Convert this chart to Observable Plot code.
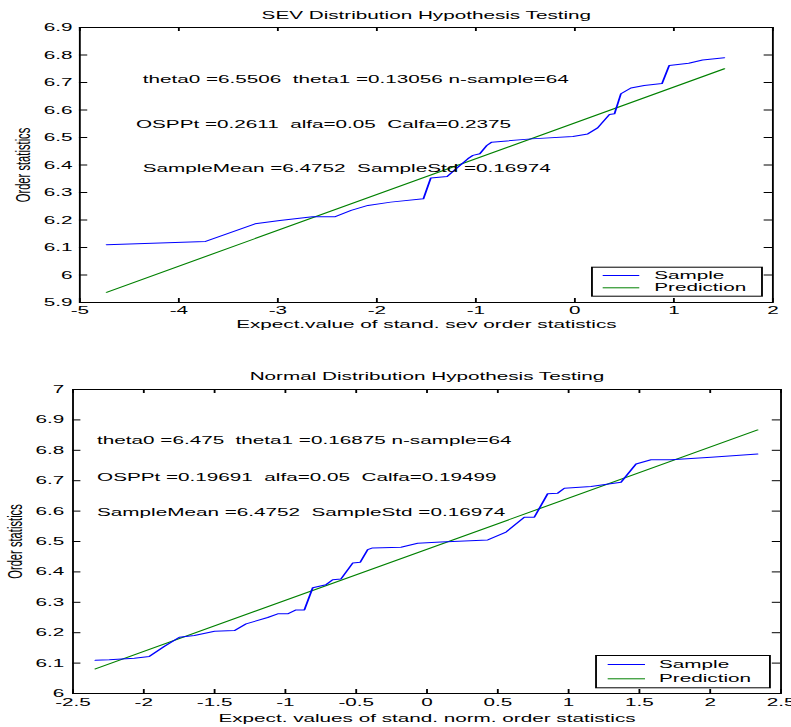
<!DOCTYPE html>
<html><head><meta charset="utf-8">
<script src="https://cdn.jsdelivr.net/npm/d3@7"></script>
<script src="https://cdn.jsdelivr.net/npm/@observablehq/plot@0.6"></script>
<style>
html,body{margin:0;padding:0;background:#fff;}
#chart{width:791px;height:727px;overflow:hidden;background:#fff;}
#chart svg{display:block;}
#chart svg text{white-space:pre;}
</style></head><body><div id="chart"></div>
<script>
// ---------- data: SEV panel ----------
const sevTitle = "SEV Distribution Hypothesis Testing";
const sevXLabel = "Expect.value of stand. sev order statistics";
const yLabel = "Order statistics";
const sevXTicks = [-5, -4, -3, -2, -1, 0, 1, 2];
const sevYTicks = [5.9, 6, 6.1, 6.2, 6.3, 6.4, 6.5, 6.6, 6.7, 6.8, 6.9];
const sevSampleX = [-4.73, -3.73, -3.23, -2.98, -2.65, -2.42, -2.26, -2.09, -1.86, -1.53, -1.455, -1.29, -1.20, -1.08, -1.03, -0.96, -0.89, -0.84, -0.44, -0.02, 0.13, 0.23, 0.35, 0.40, 0.465, 0.566, 0.70, 0.88, 0.953, 1.15, 1.29, 1.51];
const sevSampleY = [6.110, 6.122, 6.186, 6.198, 6.212, 6.212, 6.235, 6.253, 6.265, 6.277, 6.353, 6.358, 6.386, 6.423, 6.435, 6.441, 6.471, 6.483, 6.495, 6.504, 6.513, 6.535, 6.584, 6.586, 6.659, 6.680, 6.689, 6.696, 6.762, 6.770, 6.782, 6.790];
const sevPredX = [-4.73, 1.51];
const sevPredY = [5.937, 6.750];
const sevNoteText = ["theta0 =6.5506  theta1 =0.13056 n-sample=64", "OSPPt =0.2611  alfa=0.05  Calfa=0.2375", "SampleMean =6.4752  SampleStd =0.16974"];
const sevNoteX = [-4.365, -4.433, -4.365];
const sevNoteY = [6.711, 6.547, 6.388];

// ---------- data: Normal panel ----------
const normTitle = "Normal Distribution Hypothesis Testing";
const normXLabel = "Expect. values of stand. norm. order statistics";
const normXTicks = [-2.5, -2, -1.5, -1, -0.5, 0, 0.5, 1, 1.5, 2, 2.5];
const normYTicks = [6, 6.1, 6.2, 6.3, 6.4, 6.5, 6.6, 6.7, 6.8, 6.9, 7];
const normSampleX = [-2.342, -2.244, -2.067, -1.961, -1.855, -1.749, -1.643, -1.50, -1.36, -1.278, -1.125, -1.054, -0.984, -0.925, -0.866, -0.807, -0.713, -0.666, -0.607, -0.525, -0.471, -0.419, -0.384, -0.184, -0.066, 0.099, 0.429, 0.558, 0.687, 0.758, 0.852, 0.923, 0.970, 1.158, 1.370, 1.476, 1.582, 1.723, 2.006, 2.335];
const normSampleY = [6.109, 6.111, 6.116, 6.122, 6.155, 6.185, 6.191, 6.205, 6.207, 6.229, 6.250, 6.262, 6.262, 6.275, 6.275, 6.348, 6.358, 6.374, 6.377, 6.429, 6.432, 6.473, 6.479, 6.481, 6.494, 6.498, 6.505, 6.531, 6.580, 6.580, 6.657, 6.659, 6.675, 6.681, 6.695, 6.755, 6.769, 6.769, 6.777, 6.788];
const normPredX = [-2.342, 2.335];
const normPredY = [6.081, 6.867];
const normNoteText = ["theta0 =6.475  theta1 =0.16875 n-sample=64", "OSPPt =0.19691  alfa=0.05  Calfa=0.19499", "SampleMean =6.4752  SampleStd =0.16974"];
const normNoteX = [-2.33, -2.33, -2.33];
const normNoteY = [6.832, 6.7115, 6.596];

const legendNames = ["Sample", "Prediction"];
const lineColors = {Sample: "#0000ff", Prediction: "#008000"};

// ---------- layout (internal units; the picture is stretched horizontally) ----------
const W = 428, OUT_W = 791;
const sevLayout = {h: 350, ml: 42.7, mr: 10.3, mt: 27, mb: 48, xpad: 4, ypad: 4,
  titleDy: -12.5, xLabelDy: 21.8, yLabelDx: -30.3,
  legBox: {x1: 319.8, x2: 411.8, y1: 266.7, y2: 295.7},
  legLineX: [325.6, 345.4], legTextX: 353.5, legRowY: [275, 287.3]};
const normLayout = {h: 377, ml: 39, mr: 5.9, mt: 39, mb: 34, xpad: 5, ypad: 4.7,
  titleDy: -13.2, xLabelDy: 25, yLabelDx: -31.1,
  legBox: {x1: 322, x2: 416.1, y1: 305, y2: 337.3},
  legLineX: [328.3, 348.5], legTextX: 356.1, legRowY: [314, 328.3]};

// keep runs of spaces visible in SVG text
const keepSpaces = s => s.replace(/ {2}/g, " \u00a0");

function panel(c) {
  const L = c.layout;
  const fw = W - L.ml - L.mr, fh = L.h - L.mt - L.mb;
  const insets = (x1, x2, y1, y2) => ({insetLeft: x1 - L.ml, insetRight: W - L.mr - x2, insetTop: y1 - L.mt, insetBottom: L.h - L.mb - y2});
  const sample = c.sampleX.map((x, i) => ({x, y: c.sampleY[i]}));
  const pred = c.predX.map((x, i) => ({x, y: c.predY[i]}));
  const notes = c.noteText.map((t, i) => ({text: keepSpaces(t), x: c.noteX[i], y: c.noteY[i]}));
  const legendMarks = [Plot.frame({...insets(L.legBox.x1, L.legBox.x2, L.legBox.y1, L.legBox.y2), fill: "white", stroke: "black"})];
  legendNames.forEach((name, i) => {
    const ry = L.legRowY[i];
    legendMarks.push(Plot.frame({...insets(L.legLineX[0], L.legLineX[1], ry - 0.5, ry + 0.5), fill: lineColors[name], stroke: "none"}));
    legendMarks.push(Plot.text([name], {text: d => d, frameAnchor: "top-left", dx: L.legTextX - L.ml, dy: ry - L.mt, textAnchor: "start", lineAnchor: "middle"}));
  });
  const svg = Plot.plot({
    width: W, height: L.h,
    marginLeft: L.ml, marginRight: L.mr, marginTop: L.mt, marginBottom: L.mb,
    style: {fontFamily: "'Liberation Sans', Arial, sans-serif", fontSize: "11.2px", background: "white", color: "black", overflow: "visible"},
    x: {domain: c.xDomain, ticks: c.xTicks, tickFormat: d => String(d), tickSize: 0, tickPadding: L.xpad, label: null},
    y: {domain: c.yDomain, ticks: c.yTicks, tickFormat: d => String(d), tickSize: 0, tickPadding: L.ypad, label: null},
    marks: [
      Plot.ruleX(c.xTicks, {x: d => d, stroke: "black", insetTop: fh - 4}),
      Plot.ruleX(c.xTicks, {x: d => d, stroke: "black", insetBottom: fh - 4}),
      Plot.ruleY(c.yTicks, {y: d => d, stroke: "black", insetRight: fw - 4.5}),
      Plot.ruleY(c.yTicks, {y: d => d, stroke: "black", insetLeft: fw - 4.5}),
      Plot.line(pred, {x: "x", y: "y", stroke: lineColors.Prediction, strokeWidth: 1}),
      Plot.line(sample, {x: "x", y: "y", stroke: lineColors.Sample, strokeWidth: 1}),
      Plot.text(notes, {x: "x", y: "y", text: "text", textAnchor: "start", lineAnchor: "middle"}),
      ...legendMarks,
      Plot.frame({stroke: "black"}),
      Plot.text([c.title], {text: d => d, frameAnchor: "top", dy: L.titleDy, lineAnchor: "middle"}),
      Plot.text([c.xLabel], {text: d => d, frameAnchor: "bottom", dy: L.xLabelDy, lineAnchor: "middle"}),
      Plot.text([c.yLabel], {text: d => d, frameAnchor: "left", dx: L.yLabelDx, rotate: -90, textAnchor: "middle", lineAnchor: "middle"})
    ]
  });
  svg.setAttribute("viewBox", `0 0 ${W} ${L.h}`);
  svg.setAttribute("preserveAspectRatio", "none");
  svg.setAttribute("width", OUT_W);
  svg.setAttribute("height", L.h);
  svg.style.width = OUT_W + "px";
  svg.style.height = L.h + "px";
  svg.style.maxWidth = "none";
  return svg;
}

const root = document.getElementById("chart");
root.appendChild(panel({layout: sevLayout, title: sevTitle, xLabel: sevXLabel, yLabel,
  xDomain: [-5, 2], yDomain: [5.9, 6.9], xTicks: sevXTicks, yTicks: sevYTicks,
  sampleX: sevSampleX, sampleY: sevSampleY, predX: sevPredX, predY: sevPredY,
  noteText: sevNoteText, noteX: sevNoteX, noteY: sevNoteY}));
root.appendChild(panel({layout: normLayout, title: normTitle, xLabel: normXLabel, yLabel,
  xDomain: [-2.5, 2.5], yDomain: [6, 7], xTicks: normXTicks, yTicks: normYTicks,
  sampleX: normSampleX, sampleY: normSampleY, predX: normPredX, predY: normPredY,
  noteText: normNoteText, noteX: normNoteX, noteY: normNoteY}));
</script>
</body></html>
